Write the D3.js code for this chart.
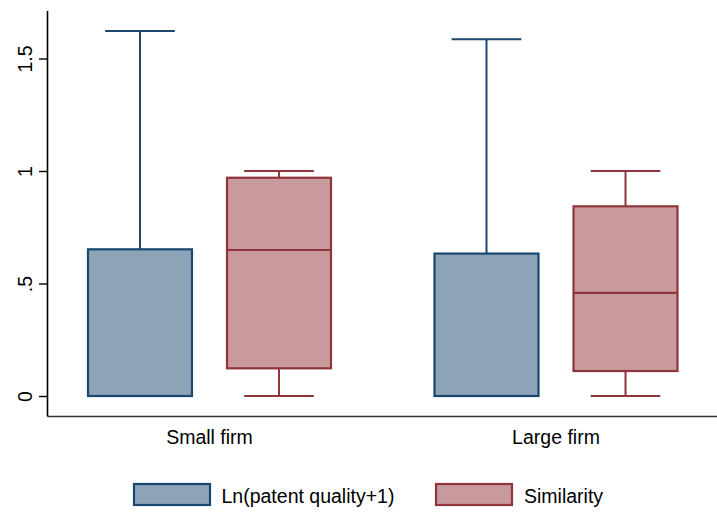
<!DOCTYPE html>
<html>
<head>
<meta charset="utf-8">
<script src="https://cdn.jsdelivr.net/npm/d3@7"></script>
<style>
  html, body { margin: 0; padding: 0; background: #fff; }
  svg { display: block; font-family: "Liberation Sans", Arial, sans-serif; }
</style>
</head>
<body>
<svg id="chart" width="717" height="514"></svg>
<script>
// Firm-size groups and the two plotted variables
const groups = ["Small firm", "Large firm"];
const seriesNames = ["Ln(patent quality+1)", "Similarity"];

// Box statistics per group: [lower whisker, q1, median, q3, upper whisker]
const patentQuality = [
  [0, 0, 0, 0.652, 1.622],
  [0, 0, 0, 0.633, 1.585]
];
const similarity = [
  [0, 0.123, 0.649, 0.970, 1.0],
  [0, 0.111, 0.458, 0.843, 1.0]
];

const yTicks = [0, 0.5, 1, 1.5];
const yTickLabels = ["0", ".5", "1", "1.5"];

const strokeColors = ["#1a476f", "#90353b"];
const fillColors = ["#8da3b7", "#c89a9d"];

const svg = d3.select("#chart");

const y = d3.scaleLinear().domain([-0.0911, 1.7111]).range([416.5, 11]);
const x0 = d3.scaleBand().domain(groups).range([36.25, 729.25]).paddingInner(0).paddingOuter(0);
const x1 = d3.scaleBand().domain(seriesNames).range([51.75, 294.75]).paddingInner(0.252).paddingOuter(0);

const axisLeft = 47.5, axisBottom = 416.5;

// Axes
const yAxis = d3.axisLeft(y).tickValues(yTicks).tickSize(8.5)
  .tickFormat((d, i) => yTickLabels[i]);
const gy = svg.append("g").attr("transform", `translate(${axisLeft},0)`).call(yAxis);
gy.select(".domain").attr("stroke", "#000").attr("stroke-width", 1.6)
  .attr("d", `M0,${y.range()[0]}V${y.range()[1]}`);
gy.selectAll(".tick line").attr("stroke", "#000").attr("stroke-width", 1.4);
gy.selectAll(".tick text")
  .attr("font-size", "19.5px").attr("fill", "#000")
  .attr("text-anchor", "middle").attr("dy", null).attr("x", null)
  .attr("transform", "translate(-16,0) rotate(-90)");

const xAxis = d3.axisBottom(x0).tickSize(0).tickPadding(0);
const gx = svg.append("g").attr("transform", `translate(0,${axisBottom})`).call(xAxis);
gx.select(".domain").attr("stroke", "#333").attr("stroke-width", 1.6)
  .attr("d", `M${axisLeft},0H717`);
gx.selectAll(".tick text").attr("font-size", "19.5px").attr("fill", "#000")
  .attr("dy", null).attr("y", 27.5);

// Boxes
const series = [patentQuality, similarity];
const bw = x1.bandwidth();
const capHalf = bw * 0.335;

series.forEach((data, si) => {
  const g = svg.append("g");
  data.forEach((s, gi) => {
    const [lo, q1, med, q3, hi] = s;
    const left = x0(groups[gi]) + x1(seriesNames[si]);
    const cx = left + bw / 2;
    const stroke = strokeColors[si];
    // whiskers and caps
    const wh = [[q3, hi], [q1, lo]];
    wh.forEach(([a, b]) => {
      if (a !== b) {
        g.append("line").attr("x1", cx).attr("x2", cx).attr("y1", y(a)).attr("y2", y(b))
          .attr("stroke", stroke).attr("stroke-width", 2);
      }
      g.append("line").attr("x1", cx - capHalf).attr("x2", cx + capHalf)
        .attr("y1", y(b)).attr("y2", y(b))
        .attr("stroke", stroke).attr("stroke-width", 2);
    });
    // box
    g.append("rect").attr("x", left).attr("width", bw)
      .attr("y", y(q3)).attr("height", y(q1) - y(q3))
      .attr("fill", fillColors[si]).attr("stroke", stroke).attr("stroke-width", 2.2);
    // median
    g.append("line").attr("x1", left).attr("x2", left + bw)
      .attr("y1", y(med)).attr("y2", y(med))
      .attr("stroke", stroke).attr("stroke-width", 2.2);
  });
});

// Legend
const legendItems = [
  { name: seriesNames[0], x: 134, tx: 221.5 },
  { name: seriesNames[1], x: 436, tx: 524 }
];
const lg = svg.append("g");
legendItems.forEach((d, i) => {
  lg.append("rect").attr("x", d.x).attr("y", 484).attr("width", 76).attr("height", 21)
    .attr("fill", fillColors[i]).attr("stroke", strokeColors[i]).attr("stroke-width", 2.2);
  lg.append("text").attr("x", d.tx).attr("y", 503).attr("font-size", "19.5px")
    .attr("fill", "#000").text(d.name);
});
</script>
</body>
</html>
